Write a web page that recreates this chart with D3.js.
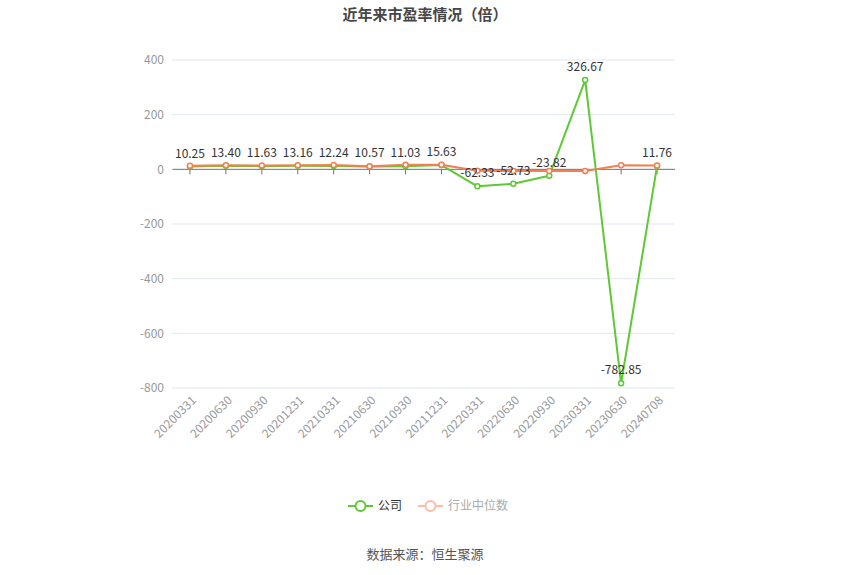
<!DOCTYPE html>
<html>
<head>
<meta charset="utf-8">
<script src="https://cdn.jsdelivr.net/npm/d3@7"></script>
<style>
    body { margin: 0; background: #fff; }
    svg text { font-family: "Noto Sans CJK SC", "Noto Sans", sans-serif; }
</style>
</head>
<body>
<div id="chart"></div>
<script>
// Chart data
let categories = ["20200331", "20200630", "20200930", "20201231", "20210331", "20210630", "20210930",
    "20211231", "20220331", "20220630", "20220930", "20230331", "20230630", "20240708"];
let companyValues = [10.25, 13.40, 11.63, 13.16, 12.24, 10.57, 11.03, 15.63, -62.33, -52.73, -23.82, 326.67, -782.85, 11.76];
let industryValues = [13.5, 14.5, 14.0, 14.5, 16.0, 11.5, 17.0, 16.5, -5.0, -6.0, -6.0, -6.0, 15.0, 14.0];
let yTicks = [400, 200, 0, -200, -400, -600, -800];
let seriesNames = ["公司", "行业中位数"];

let width = 850, height = 575;
let margin = { top: 60, right: 175, bottom: 187, left: 172 };
let innerW = width - margin.left - margin.right,
    innerH = height - margin.top - margin.bottom;

let green = "#5ec935", orange = "#f47f52";

let svg = d3.select("#chart").append("svg")
    .attr("width", width)
    .attr("height", height);

// Title
svg.append("text")
    .attr("x", width / 2)
    .attr("y", 20)
    .attr("text-anchor", "middle")
    .attr("font-size", 15)
    .attr("font-weight", "bold")
    .attr("fill", "#464646")
    .text("近年来市盈率情况（倍）");

let g = svg.append("g")
    .attr("transform", "translate(" + margin.left + "," + margin.top + ")");

// Scales
let x = d3.scaleBand()
    .domain(categories)
    .range([0, innerW]);

let y = d3.scaleLinear()
    .domain([-800, 400])
    .range([innerH, 0]);

let cx = d => x(d) + x.bandwidth() / 2;

// Grid lines
g.selectAll(".grid")
    .data(yTicks.filter(t => t !== 0))
    .enter().append("line")
    .attr("class", "grid")
    .attr("x1", 0)
    .attr("x2", innerW)
    .attr("y1", d => y(d))
    .attr("y2", d => y(d))
    .attr("stroke", "#e0e6f1")
    .attr("stroke-width", 1);

// Y axis labels
let yAxis = d3.axisLeft(y)
    .tickValues(yTicks)
    .tickSize(0)
    .tickPadding(8)
    .tickFormat(d => String(d));

g.append("g")
    .attr("class", "y-axis")
    .call(yAxis)
    .call(a => a.select(".domain").remove())
    .call(a => a.selectAll("text").attr("fill", "#999").attr("font-size", 12));

// Zero line with ticks
let xAxis = d3.axisBottom(x)
    .tickSize(5)
    .tickFormat("");

g.append("g")
    .attr("class", "x-axis")
    .attr("transform", "translate(0," + y(0) + ")")
    .call(xAxis)
    .call(a => a.select(".domain").attr("stroke", "#6e7079").attr("d", "M0.5,0H" + innerW))
    .call(a => a.selectAll("line").attr("stroke", "#6e7079"));

// Rotated category labels along bottom
g.append("g")
    .selectAll("text")
    .data(categories)
    .enter().append("text")
    .attr("transform", d => "translate(" + (cx(d) + 4) + "," + (innerH + 10) + ") rotate(-45)")
    .attr("text-anchor", "end")
    .attr("dy", "0.35em")
    .attr("font-size", 12)
    .attr("fill", "#999")
    .text(d => d);

// Lines
let line = d3.line()
    .x((d, i) => cx(categories[i]))
    .y(d => y(d));

function drawSeries(values, color) {
    g.append("path")
        .datum(values)
        .attr("fill", "none")
        .attr("stroke", color)
        .attr("stroke-width", 2)
        .attr("stroke-linejoin", "round")
        .attr("d", line);

    g.selectAll(null)
        .data(values)
        .enter().append("circle")
        .attr("cx", (d, i) => cx(categories[i]))
        .attr("cy", d => y(d))
        .attr("r", 2.5)
        .attr("fill", "#fff")
        .attr("stroke", color)
        .attr("stroke-width", 1.5);
}

drawSeries(companyValues, green);
drawSeries(industryValues, orange);

// Data labels for company
g.selectAll(".label")
    .data(companyValues)
    .enter().append("text")
    .attr("class", "label")
    .attr("x", (d, i) => cx(categories[i]))
    .attr("y", d => y(d) - 9)
    .attr("text-anchor", "middle")
    .attr("font-size", 12)
    .attr("fill", "#333")
    .text(d => d.toFixed(2));

// Legend
let legend = svg.append("g")
    .attr("transform", "translate(0,506)");

let legendItems = [
    { name: seriesNames[0], color: green, text: "#333", x: 348 },
    { name: seriesNames[1], color: "#fbbfa8", text: "#aaa", x: 418 }
];

legendItems.forEach(item => {
    legend.append("line")
        .attr("x1", item.x).attr("x2", item.x + 25)
        .attr("y1", 0).attr("y2", 0)
        .attr("stroke", item.color)
        .attr("stroke-width", 2);
    legend.append("circle")
        .attr("cx", item.x + 12.5).attr("cy", 0)
        .attr("r", 5)
        .attr("fill", "#fff")
        .attr("stroke", item.color)
        .attr("stroke-width", 2);
    legend.append("text")
        .attr("x", item.x + 30)
        .attr("y", 0)
        .attr("dy", "0.35em")
        .attr("font-size", 12)
        .attr("fill", item.text)
        .text(item.name);
});

// Source
svg.append("text")
    .attr("x", width / 2)
    .attr("y", 559)
    .attr("text-anchor", "middle")
    .attr("font-size", 13)
    .attr("fill", "#555")
    .text("数据来源：恒生聚源");
</script>
</body>
</html>
